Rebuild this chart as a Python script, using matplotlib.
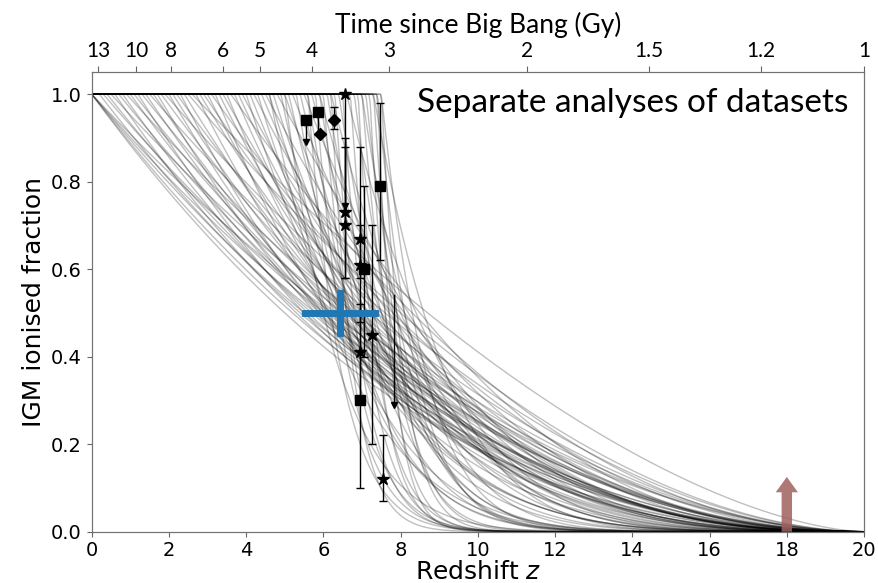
"""
Reionisation histories (IGM ionised fraction vs redshift) with the
individual observational constraints over-plotted.
"""
import numpy as np
import matplotlib
matplotlib.use('Agg')  # Use non-interactive backend
import matplotlib.pyplot as plt

# Model histories: x = 1 below z_end, then falls to 0 at Z_EARLY as a power law.
# Each curve is set by its end redshift and the redshift where x = 0.5.
Z_EARLY = 20.0
z_end = [0.0, 0.0, 0.0, 0.0, 0.0, 0.2, 0.3, 0.4, 0.5, 0.6,
         0.7, 0.8, 0.9, 1.0, 1.1, 1.2, 1.3, 1.4,
         1.5, 1.6, 1.7, 1.8, 1.9, 2.0, 2.1, 2.2, 2.3, 2.4,
         2.5, 2.6, 2.7, 2.8, 2.9, 3.0, 3.1, 3.2, 3.3, 3.4,
         3.5, 3.6, 3.7, 3.8, 3.9,
         4.0, 4.1, 4.2, 4.3, 4.4, 4.5, 4.6, 4.6, 4.7, 4.8, 4.9,
         5.0, 5.0, 5.1, 5.2, 5.3, 5.4, 5.5, 5.6, 5.6, 5.7, 5.8, 5.9, 5.9,
         6.0, 6.1, 6.2, 6.2, 6.3, 6.4, 6.5, 6.6, 6.7, 6.8, 6.9,
         7.0, 7.0, 7.1, 7.2, 7.3, 7.3, 7.4, 7.4, 7.5, 7.5]
z_half = [5.0, 5.2, 5.5, 5.8, 6.2, 5.4, 6.0, 5.7, 6.5, 5.3,
          6.1, 5.6, 6.8, 5.9, 6.3, 5.5, 6.6, 6.0,
          7.2, 6.2, 5.8, 6.7, 7.6, 6.0, 6.4, 7.0, 5.9, 6.6,
          8.0, 8.7, 6.2, 6.9, 7.4, 6.5, 7.8, 6.1, 6.8, 7.2,
          6.4, 8.3, 6.7, 7.0, 7.5,
          6.3, 6.9, 7.7, 6.5, 7.3, 8.1, 6.7, 6.1, 7.0, 8.5, 6.4,
          7.4, 6.0, 6.8, 7.9, 6.5, 7.1, 8.2, 6.7, 6.2, 7.5, 6.4, 7.0, 7.8,
          6.6, 7.3, 8.0, 6.6, 6.8, 7.5, 7.0, 8.4, 7.2, 7.7, 7.3,
          8.1, 7.6, 7.9, 7.6, 8.6, 7.8, 8.1, 7.7, 8.3, 7.9]

# Observational constraints: (z, x, lower error, upper error)
star_z = [6.56, 6.56, 6.56, 6.95, 6.95, 6.95, 7.25, 7.54]
star_x = [1.00, 0.73, 0.70, 0.67, 0.61, 0.41, 0.45, 0.12]
star_lo = [0.00, 0.15, 0.12, 0.09, 0.13, 0.11, 0.25, 0.05]
star_hi = [0.00, 0.17, 0.18, 0.21, 0.09, 0.11, 0.25, 0.10]

square_z = [5.56, 5.87, 7.04, 7.47, 6.95]
square_x = [0.94, 0.96, 0.60, 0.79, 0.30]
square_lo = [0.00, 0.05, 0.20, 0.17, 0.20]
square_hi = [0.00, 0.00, 0.19, 0.19, 0.20]

diamond_z = [5.90, 6.27]
diamond_x = [0.91, 0.94]
diamond_lo = [0.00, 0.02]
diamond_hi = [0.00, 0.03]

# upper limits drawn as a line ending in an arrow head
limit_z = [5.56, 6.56, 7.83]
limit_from = [0.94, 1.00, 0.54]
limit_to = [0.89, 0.745, 0.29]

# combined estimate (blue cross)
combo_z, combo_x = 6.43, 0.50
combo_zerr, combo_xerr = 0.99, 0.052

# lower bound on redshift of first sources (arrow)
arrow_z, arrow_x = 18.0, 0.125

# top axis: time since Big Bang
top_tick_z = [0.17, 1.16, 2.06, 3.40, 4.35, 5.70, 7.71, 11.27, 14.43, 17.33, 20.0]
top_tick_labels = ['13', '10', '8', '6', '5', '4', '3', '2', '1.5', '1.2', '1']

fig = plt.figure(figsize=(8.79, 5.83), dpi=100)
ax = fig.add_axes([0.1043, 0.088, 0.8787, 0.788])

z = np.linspace(0, Z_EARLY, 600)
for ze, zh in zip(z_end, z_half):
    alpha = np.log(0.5) / np.log((Z_EARLY - zh) / (Z_EARLY - ze))
    xe = np.where(z < ze, 1.0, ((Z_EARLY - np.clip(z, ze, Z_EARLY)) / (Z_EARLY - ze)) ** alpha)
    ax.plot(z, xe, color='black', alpha=0.25, lw=1.0)

ebar = dict(fmt='none', ecolor='black', elinewidth=1.0, capsize=3, capthick=1.0)
ax.errorbar(star_z, star_x, yerr=[star_lo, star_hi], **ebar)
ax.errorbar(square_z, square_x, yerr=[square_lo, square_hi], **ebar)
ax.errorbar(diamond_z, diamond_x, yerr=[diamond_lo, diamond_hi], **ebar)
for zl, x0, x1 in zip(limit_z, limit_from, limit_to):
    ax.plot([zl, zl], [x0, x1], color='black', lw=1.0)
    ax.plot(zl, x1, marker='v', color='black', markersize=5)
ax.plot(star_z, star_x, '*', color='black', markersize=9, linestyle='none')
ax.plot(square_z, square_x, 's', color='black', markersize=6.5, linestyle='none')
ax.plot(diamond_z, diamond_x, 'D', color='black', markersize=6, linestyle='none')

ax.errorbar(combo_z, combo_x, xerr=combo_zerr, yerr=combo_xerr, fmt='none',
            ecolor='#1f77b4', elinewidth=5, capsize=2, capthick=1)

ax.annotate('', xy=(arrow_z, arrow_x), xytext=(arrow_z, 0.0),
            arrowprops=dict(facecolor='#a0605f', edgecolor='none', alpha=0.85,
                            width=7.5, headwidth=16, headlength=11, shrink=0))

ax.text(0.98, 0.965, 'Separate analyses of datasets', transform=ax.transAxes,
        ha='right', va='top', fontsize=24, fontfamily='Lato')

ax.set_xlim(0, 20)
ax.set_ylim(0, 1.05)
ax.set_xticks(np.arange(0, 21, 2))
ax.set_yticks(np.arange(0, 1.01, 0.2))
ax.set_xlabel('Redshift $z$', fontsize=18, labelpad=0)
ax.set_ylabel('IGM ionised fraction', fontsize=18)
ax.tick_params(labelsize=14, color='0.4')
for sp in ax.spines.values():
    sp.set_color('0.45')

ax2 = ax.twiny()
ax2.set_xlim(0, 20)
ax2.set_xticks(top_tick_z)
ax2.set_xticklabels(top_tick_labels, fontfamily='Lato', fontsize=15)
ax2.tick_params(color='0.4', length=4, pad=4)
ax2.set_xlabel('Time since Big Bang (Gy)', fontfamily='Lato', fontsize=19, labelpad=6)
for sp in ax2.spines.values():
    sp.set_color('0.45')

fig.savefig('out.png', dpi=100)
plt.close(fig)
